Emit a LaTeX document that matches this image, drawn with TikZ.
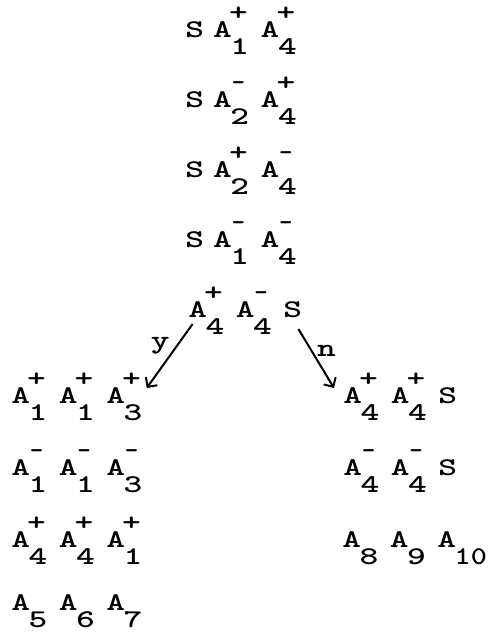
\documentclass[tikz,border=0pt]{standalone}
\usepackage{fontspec}
\usepackage{graphicx}
\newfontfamily\tw{lmmonolt10-bold.otf}
\usetikzlibrary{arrows.meta,calc}

% one typewriter cell at the chosen size
\newlength\cw
\setlength\cw{15.84pt}
% a single character, widened, centred in one cell
\newcommand\G[1]{\scalebox{1.4}[1]{#1}}
\newcommand\C[1]{\makebox[\cw][c]{\G{#1}}}
% a cell holding a raised sign above a lowered index
\newcommand\sx[2]{\makebox[\cw][l]{\rlap{\raisebox{17pt}{\C{#2}}}\raisebox{-17pt}{\G{#1}}}}
\newcommand\At[2]{\C{A}\sx{#1}{#2}}
\newcommand\gap{\hspace{\cw}}
% the short typewriter minus, kept at its natural width
\newcommand\mn{\scalebox{0.72}[1]{-}}
% a two-digit index, set a little tighter
\newcommand\two[1]{\scalebox{0.86}[1]{#1}}

\begin{document}
\begin{tikzpicture}[x=1pt,y=-1pt,
  tt/.style={inner sep=0pt, anchor=base west, font=\tw\fontsize{25.5}{30}\selectfont},
  arr/.style={line width=2pt, -{Straight Barb[length=7pt,width=14pt,line width=2pt]}},
  lbl/.style={font=\tw\fontsize{25.5}{30}\selectfont, inner sep=1pt}]
\useasboundingbox (0,0) rectangle (491,633);

% top column
\node[tt] (t1) at (186.6,37)  {\C{S}\hspace{12pt}\At{1}{+}\gap\At{4}{+}};
\node[tt] (t2) at (186.6,107) {\C{S}\hspace{12pt}\At{2}{\mn}\gap\At{4}{+}};
\node[tt] (t3) at (186.6,177) {\C{S}\hspace{12pt}\At{2}{+}\gap\At{4}{\mn}};
\node[tt] (t4) at (186.6,247) {\C{S}\hspace{12pt}\At{1}{\mn}\gap\At{4}{\mn}};
\node[tt] (m)  at (189.6,317) {\At{4}{+}\gap\At{4}{\mn}\gap\C{S}};

% y branch
\node[tt] (l1) at (12.6,403) {\At{1}{+}\gap\At{1}{+}\gap\At{3}{+}};
\node[tt] (l2) at (12.6,475) {\At{1}{\mn}\gap\At{1}{\mn}\gap\At{3}{\mn}};
\node[tt] (l3) at (12.6,547) {\At{4}{+}\gap\At{4}{+}\gap\At{1}{+}};
\node[tt] (l4) at (12.6,610) {\At{5}{}\gap\At{6}{}\gap\At{7}{}};

% n branch
\node[tt] (r1) at (344.6,403) {\At{4}{+}\gap\At{4}{+}\gap\C{S}};
\node[tt] (r2) at (344.6,475) {\At{4}{\mn}\gap\At{4}{\mn}\gap\C{S}};
\node[tt] (r3) at (343.6,547) {\At{8}{}\gap\At{9}{}\gap\At{\two{10}}{}};

\draw[arr] ($(m.base west)+(3,7)$) -- node[lbl, above left, xshift=2pt] {\G{y}} ($(l1.base east)+(7,-15)$);
\draw[arr] ($(m.base east)+(-2.5,12)$) -- node[lbl, above right, xshift=-1pt] {\G{n}} ($(r1.base west)+(-10.6,-15)$);
\end{tikzpicture}
\end{document}
